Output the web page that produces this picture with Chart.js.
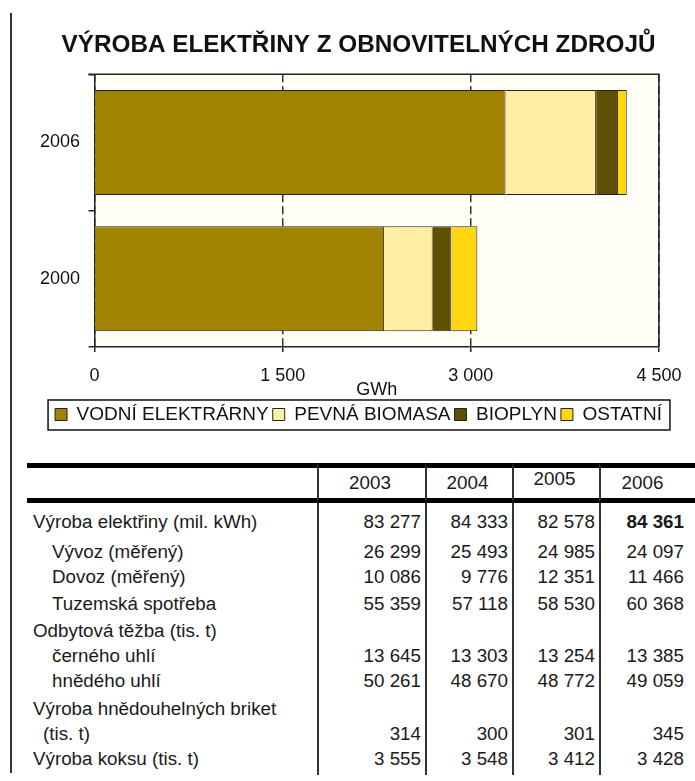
<!DOCTYPE html>
<html lang="cs">
<head>
<meta charset="utf-8">
<title>Výroba elektřiny z obnovitelných zdrojů</title>
<script src="https://cdn.jsdelivr.net/npm/chart.js@4.4.1/dist/chart.umd.min.js"></script>
<style>
  html, body { margin: 0; padding: 0; background: #fff; }
  body { width: 695px; height: 781px; position: relative; overflow: hidden;
         font-family: 'Liberation Sans', Arial, sans-serif; color: #1a1a1a; }
  #pageLine { position: absolute; left: 10px; top: 13px; width: 2px; height: 760px; background: #333; }
  #chartBox { position: absolute; left: 0; top: 0; width: 695px; height: 440px; }
  #tbl { position: absolute; left: 27px; top: 463px; width: 668px; border-collapse: separate;
         border-spacing: 0; table-layout: fixed; font-size: 18.8px; }
  #tbl th, #tbl td { padding: 0; font-weight: normal; white-space: nowrap; overflow: visible; }
  #tbl thead th { height: 30px; line-height: 30px; border-top: 5px solid #000; border-bottom: 5px solid #000; }
  #tbl .num { text-align: right; padding-right: 4px; border-left: 2px solid #333; }
  #tbl .num.last { padding-right: 11px; }
  #tbl thead th.num { text-align: center; }
  #tbl thead th:nth-child(4) span { position: relative; top: -4px; }
  #tbl td { line-height: 25px; vertical-align: bottom; }
  #tbl td.lab { padding-left: 6px; }
  #tbl tbody tr:nth-child(2) td.lab, #tbl tbody tr:nth-child(3) td.lab, #tbl tbody tr:nth-child(4) td.lab,
  #tbl tbody tr:nth-child(6) td.lab, #tbl tbody tr:nth-child(7) td.lab { padding-left: 25px; }
  #tbl tbody tr:nth-child(9) td.lab { padding-left: 16px; }
  #tbl tbody tr:nth-child(1) td { height: 30.5px; }
  #tbl tbody tr:nth-child(1) td:last-child { font-weight: bold; }
  #tbl tbody tr:nth-child(2) td { height: 30px; }
  #tbl tbody tr:nth-child(3) td { height: 25px; }
  #tbl tbody tr:nth-child(4) td { height: 27px; }
  #tbl tbody tr:nth-child(5) td { height: 27px; }
  #tbl tbody tr:nth-child(6) td { height: 24.5px; }
  #tbl tbody tr:nth-child(7) td { height: 24px; }
  #tbl tbody tr:nth-child(8) td { height: 28px; }
  #tbl tbody tr:nth-child(9) td { height: 24px; }
  #tbl tbody tr:nth-child(10) td { height: 25px; padding-bottom: 4px; }
</style>
</head>
<body>
<div id="pageLine"></div>
<div id="chartBox"><canvas id="myChart"></canvas></div>
<table id="tbl">
  <colgroup><col style="width:290px"><col style="width:108px"><col style="width:87px"><col style="width:87px"><col style="width:96px"></colgroup>
  <thead><tr id="headRow"><th></th></tr></thead>
  <tbody id="tblBody"></tbody>
</table>
<script>
// chart data (GWh)
const categories = ['2006', '2000'];
const seriesNames = ['VODNÍ ELEKTRÁRNY', 'PEVNÁ BIOMASA', 'BIOPLYN', 'OSTATNÍ'];
const vodni = [3277, 2309];
const biomasa = [722, 387];
const bioplyn = [174, 149];
const ostatni = [70, 207];
const xTicks = [0, 1500, 3000, 4500];

// table data
const tableYears = ['2003', '2004', '2005', '2006'];
const rowLabels = [
    'Výroba elektřiny (mil. kWh)',
    'Vývoz (měřený)',
    'Dovoz (měřený)',
    'Tuzemská spotřeba',
    'Odbytová těžba (tis. t)',
    'černého uhlí',
    'hnědého uhlí',
    'Výroba hnědouhelných briket',
    '(tis. t)',
    'Výroba koksu (tis. t)'
];
const v2003 = [83277, 26299, 10086, 55359, null, 13645, 50261, null, 314, 3555];
const v2004 = [84333, 25493, 9776, 57118, null, 13303, 48670, null, 300, 3548];
const v2005 = [82578, 24985, 12351, 58530, null, 13254, 48772, null, 301, 3412];
const v2006 = [84361, 24097, 11466, 60368, null, 13385, 49059, null, 345, 3428];

function fmt(n) {
    return String(n).replace(/\B(?=(\d{3})+(?!\d))/g, ' ');
}

// build the table
const headRow = document.getElementById('headRow');
tableYears.forEach(function(y, i) {
    const th = document.createElement('th');
    th.className = 'num' + (i === tableYears.length - 1 ? ' last' : '');
    th.innerHTML = '<span>' + y + '</span>';
    headRow.appendChild(th);
});
const body = document.getElementById('tblBody');
const cols = [v2003, v2004, v2005, v2006];
rowLabels.forEach(function(label, r) {
    const tr = document.createElement('tr');
    const td = document.createElement('td');
    td.className = 'lab';
    td.textContent = label;
    tr.appendChild(td);
    cols.forEach(function(col, c) {
        const cell = document.createElement('td');
        cell.className = 'num' + (c === cols.length - 1 ? ' last' : '');
        cell.textContent = col[r] === null ? '' : fmt(col[r]);
        tr.appendChild(cell);
    });
    body.appendChild(tr);
});

// chart
Chart.defaults.font.family = "'Liberation Sans', Arial, sans-serif";
Chart.defaults.color = '#111';

const plotBg = {
    id: 'plotBg',
    beforeDraw(chart) {
        const {ctx, chartArea: a} = chart;
        ctx.save();
        ctx.fillStyle = '#fffef7';
        ctx.fillRect(a.left, a.top, a.right - a.left, a.bottom - a.top);
        ctx.restore();
    }
};
const frame = {
    id: 'frame',
    afterDatasetsDraw(chart) {
        const {ctx, chartArea: a} = chart;
        ctx.save();
        ctx.strokeStyle = '#222';
        ctx.lineWidth = 1.5;
        ctx.beginPath();
        ctx.moveTo(a.left - 6, a.top);
        ctx.lineTo(a.right, a.top);
        ctx.lineTo(a.right, a.bottom);
        ctx.stroke();
        ctx.restore();
    }
};
const legendBox = {
    id: 'legendBox',
    afterDraw(chart) {
        const hb = chart.legend && chart.legend.legendHitBoxes;
        if (!hb || !hb.length) return;
        const ctx = chart.ctx;
        const l = Math.min(...hb.map(h => h.left)) - 7;
        const r = Math.max(...hb.map(h => h.left + h.width)) + 8;
        const t = hb[0].top - 5;
        const b = hb[0].top + hb[0].height + 6;
        ctx.save();
        ctx.strokeStyle = '#111';
        ctx.lineWidth = 1.5;
        ctx.strokeRect(l, t, r - l, b - t);
        ctx.restore();
    }
};

const colors = ['#a08400', '#ffefa5', '#5f5000', '#ffd60f'];
const values = [vodni, biomasa, bioplyn, ostatni];

const ctx = document.getElementById('myChart').getContext('2d');
const myChart = new Chart(ctx, {
    type: 'bar',
    data: {
        labels: categories,
        datasets: seriesNames.map(function(name, i) {
            return {
                label: name,
                data: values[i],
                yAxisID: 'y',
                backgroundColor: colors[i],
                borderColor: '#222',
                borderWidth: 1,
                barPercentage: 0.77,
                categoryPercentage: 1
            };
        })
    },
    options: {
        responsive: true,
        maintainAspectRatio: false,
        animation: false,
        indexAxis: 'y',
        layout: {padding: {left: 22, right: 0, top: 0, bottom: 6}},
        scales: {
            x: {
                stacked: true,
                min: 0,
                max: 4500,
                afterBuildTicks: function(s) { s.ticks = xTicks.map(v => ({value: v})); },
                afterFit: function(s) { s.height = 54; },
                ticks: {font: {size: 18}, color: '#111', padding: 13.5, maxRotation: 0,
                        callback: v => fmt(v)},
                grid: {color: '#333', lineWidth: 1.5, tickLength: 5, tickColor: '#222', tickBorderDash: []},
                border: {display: true, color: '#222', width: 1.5, dash: [8, 4]},
                title: {display: true, text: 'GWh', font: {size: 18}, color: '#111', padding: {top: 0, bottom: 0.5}}
            },
            y: {
                stacked: true,
                afterFit: function(s) { s.width = 72.5; },
                ticks: {font: {size: 18}, color: '#111', padding: 8.5},
                grid: {drawOnChartArea: false, tickLength: 6, color: '#222', lineWidth: 1.5},
                border: {display: true, color: '#222', width: 1.5}
            },
            // empty right-hand margin so the plot ends where the reference does
            yr: {
                type: 'category',
                position: 'right',
                labels: categories,
                afterFit: function(s) { s.width = 30; },
                grid: {display: false},
                ticks: {display: false},
                border: {display: false}
            }
        },
        plugins: {
            title: {
                display: true,
                text: 'VÝROBA ELEKTŘINY Z OBNOVITELNÝCH ZDROJŮ',
                font: {size: 24.3, weight: 'bold'},
                color: '#111',
                padding: {top: 30.5, bottom: 14.7}
            },
            legend: {
                position: 'bottom',
                labels: {boxWidth: 12, boxHeight: 12, padding: 4, font: {size: 19}, color: '#111'}
            },
            tooltip: {enabled: false}
        }
    },
    plugins: [plotBg, frame, legendBox]
});
</script>
</body>
</html>
